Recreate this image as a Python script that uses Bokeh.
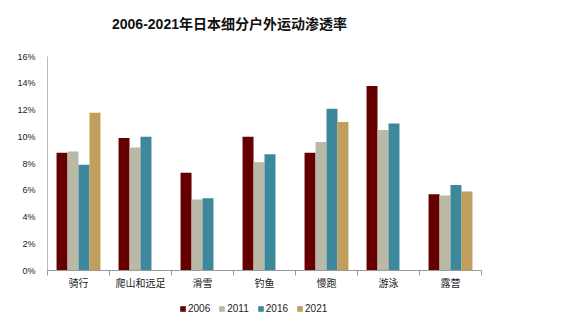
from bokeh.plotting import figure
from bokeh.layouts import column
from bokeh.models import (ColumnDataSource, FixedTicker, NumeralTickFormatter,
                          Range1d, Legend, LegendItem, Div)
from bokeh.embed import file_html
from bokeh.resources import INLINE

title_text = "2006-2021年日本细分户外运动渗透率"
categories = ["骑行", "爬山和远足", "滑雪", "钓鱼", "慢跑", "游泳", "露营"]
years = ["2006", "2011", "2016", "2021"]
v2006 = [8.8, 9.9, 7.3, 10.0, 8.8, 13.8, 5.7]
v2011 = [8.9, 9.2, 5.3, 8.1, 9.6, 10.5, 5.6]
v2016 = [7.9, 10.0, 5.4, 8.7, 12.1, 11.0, 6.4]
v2021 = [11.8, None, None, None, 11.1, None, 5.9]
y_ticks = [0, 2, 4, 6, 8, 10, 12, 14, 16]

series = [v2006, v2011, v2016, v2021]
colors = ["#660000", "#BAB8A6", "#3E889C", "#BF9E5E"]

FONT = "Liberation Sans, Arial, Noto Sans CJK SC"

# title strip
head = Div(text=('<div style="position:absolute; top:16px; left:112px; white-space:nowrap; '
                 'font-family:\'Liberation Sans\', Arial, \'Noto Sans CJK SC\'; font-size:14px; '
                 'font-weight:bold; line-height:16px; color:#111111;">' + title_text + '</div>'),
           width=576, height=34, margin=0)

p = figure(width=576, height=261, output_backend="svg", toolbar_location=None,
           x_range=Range1d(0, len(categories)), y_range=Range1d(0, 0.16),
           min_border_left=47, min_border_right=95, min_border_top=22,
           min_border_bottom=25, outline_line_color=None, margin=0)
p.xgrid.visible = False
p.ygrid.visible = False

bw = 0.177
sources = []
for k, (vals, col) in enumerate(zip(series, colors)):
    xs = [i + 0.5 + (k - 1.5) * bw for i in range(len(categories))]
    ys = [float("nan") if v is None else v / 100 for v in vals]
    src = ColumnDataSource(dict(x=xs, top=ys))
    sources.append(src)
    p.vbar(x="x", top="top", width=bw, bottom=0, source=src,
           fill_color=col, line_color=None)

# x axis
p.xaxis.ticker = FixedTicker(ticks=[i + 0.5 for i in range(len(categories))],
                             minor_ticks=list(range(len(categories) + 1)))
p.xaxis.major_label_overrides = {i + 0.5: c for i, c in enumerate(categories)}
p.xaxis.major_tick_out = 0
p.xaxis.major_tick_in = 0
p.xaxis.minor_tick_out = 5
p.xaxis.minor_tick_in = 0
p.xaxis.minor_tick_line_color = "#999999"
p.xaxis.axis_line_color = "#999999"
p.xaxis.major_label_text_font = FONT
p.xaxis.major_label_text_font_size = "10px"
p.xaxis.major_label_text_color = "#222222"
p.xaxis.major_label_standoff = 2

# y axis
p.yaxis.ticker = FixedTicker(ticks=[t / 100 for t in y_ticks])
p.yaxis.formatter = NumeralTickFormatter(format="0%")
p.yaxis.major_tick_out = 0
p.yaxis.major_tick_in = 0
p.yaxis.minor_tick_out = 0
p.yaxis.minor_tick_in = 0
p.yaxis.axis_line_color = "#BBBBBB"
p.yaxis.major_label_text_font = FONT
p.yaxis.major_label_text_font_size = "9px"
p.yaxis.major_label_text_color = "#222222"
p.yaxis.major_label_standoff = 12

# legend strip below (same data, kept out of view; only the legend shows)
p2 = figure(width=576, height=26, output_backend="svg", toolbar_location=None,
            x_range=Range1d(0, 1), y_range=Range1d(1, 2),
            min_border=0, outline_line_color=None, margin=0)
p2.axis.visible = False
p2.grid.visible = False
leg_rs = [p2.vbar(x="x", top="top", width=bw, bottom=0, source=s,
                  fill_color=c, line_color=None) for s, c in zip(sources, colors)]
legend = Legend(items=[LegendItem(label=y, renderers=[r]) for y, r in zip(years, leg_rs)],
                orientation="horizontal", location=(132, 7),
                glyph_width=7, glyph_height=7, label_standoff=2, spacing=8,
                label_text_font=FONT, label_text_font_size="10px",
                label_text_color="#222222", border_line_color=None,
                background_fill_alpha=0, padding=0, margin=0)
p2.add_layout(legend, "center")

layout = column(head, p, p2, spacing=0)
open("out.html", "w").write(file_html(layout, INLINE))
